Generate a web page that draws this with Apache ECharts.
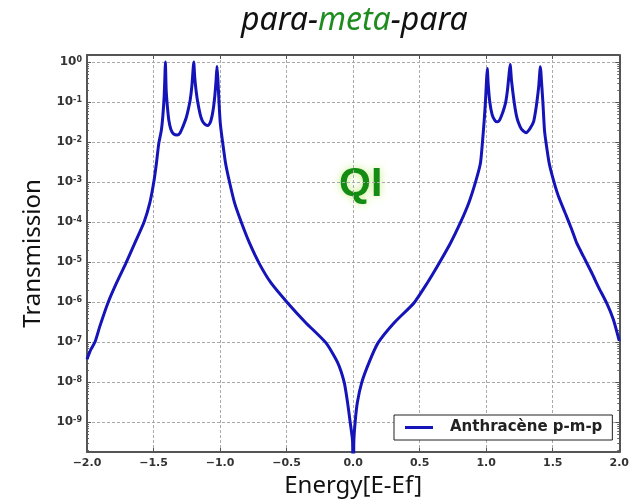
<!DOCTYPE html>
<html>
<head>
<meta charset="utf-8">
<script src="https://cdn.jsdelivr.net/npm/echarts@6/dist/echarts.min.js"></script>
<style>
html,body{margin:0;padding:0;background:#fff;}
#chart{width:632px;height:503px;}
</style>
</head>
<body>
<div id="chart"></div>
<script>
// energies (E-Ef) and transmission
var energy = [
	-2.000, -1.970, -1.940, -1.903, -1.840, -1.778, -1.710, -1.640, -1.571, -1.528,
	-1.498, -1.478, -1.461, -1.441, -1.430, -1.420, -1.414, -1.411, -1.405, -1.395,
	-1.385, -1.370, -1.350, -1.322, -1.300, -1.280, -1.255, -1.240, -1.225, -1.212,
	-1.203, -1.198, -1.190, -1.180, -1.168, -1.150, -1.135, -1.115, -1.093, -1.075,
	-1.060, -1.048, -1.038, -1.030, -1.023, -1.016, -1.008, -1.000, -0.991, -0.979,
	-0.959, -0.929, -0.891, -0.841, -0.779, -0.704, -0.617, -0.492, -0.354, -0.204,
	-0.117, -0.067, -0.042, -0.022, -0.004, 0.000, 0.005, 0.015, 0.032, 0.065,
	0.120, 0.187, 0.307, 0.457, 0.557, 0.644, 0.732, 0.807, 0.869, 0.919,
	0.957, 0.972, 0.985, 0.995, 1.002, 1.008, 1.015, 1.027, 1.045, 1.065,
	1.083, 1.100, 1.120, 1.135, 1.147, 1.160, 1.172, 1.180, 1.190, 1.210,
	1.225, 1.240, 1.265, 1.300, 1.330, 1.356, 1.370, 1.381, 1.395, 1.407,
	1.418, 1.426, 1.438, 1.449, 1.473, 1.506, 1.543, 1.593, 1.643, 1.680,
	1.730, 1.793, 1.843, 1.905, 1.955, 2.000
];
var transmission = [
	3.7e-8, 6.6e-8, 1.0e-7, 2.5e-7, 1.0e-6, 3.0e-6, 9.0e-6, 3.0e-5, 1.0e-4, 3.0e-4,
	1.0e-3, 3.0e-3, 9.0e-3, 0.020, 0.045, 0.14, 0.50, 1.0, 0.20, 0.071,
	0.035, 0.021, 0.016, 0.015, 0.017, 0.024, 0.040, 0.063, 0.11, 0.25,
	0.63, 1.0, 0.40, 0.19, 0.10, 0.050, 0.035, 0.028, 0.026, 0.030,
	0.045, 0.079, 0.16, 0.35, 0.79, 0.35, 0.10, 0.035, 0.018, 9.0e-3,
	3.0e-3, 1.0e-3, 3.0e-4, 1.0e-4, 3.0e-5, 9.0e-6, 3.0e-6, 9.5e-7, 3.0e-7, 9.5e-8,
	3.1e-8, 9.8e-9, 3.1e-9, 9.8e-10, 3.2e-10, 1e-12, 3.0e-10, 9.8e-10, 3.1e-9, 9.8e-9,
	3.1e-8, 9.5e-8, 3.0e-7, 9.5e-7, 3.0e-6, 9.1e-6, 3.0e-5, 9.8e-5, 3.0e-4, 9.8e-4,
	3.0e-3, 0.010, 0.035, 0.11, 0.32, 0.69, 0.28, 0.10, 0.048, 0.035,
	0.032, 0.035, 0.050, 0.071, 0.10, 0.20, 0.50, 0.87, 0.35, 0.10,
	0.050, 0.032, 0.021, 0.017, 0.022, 0.032, 0.056, 0.10, 0.25, 0.76,
	0.25, 0.10, 0.020, 0.010, 3.0e-3, 1.1e-3, 4.4e-4, 1.7e-4, 6.5e-5, 3.0e-5,
	1.4e-5, 5.4e-6, 2.4e-6, 9.5e-7, 3.7e-7, 1.07e-7
];
var seriesName = 'Anthracène p-m-p';
var yTicks = [1e-9, 1e-8, 1e-7, 1e-6, 1e-5, 1e-4, 1e-3, 1e-2, 1e-1, 1];
var yMin = 1.78e-10, yMax = 1.5;

// minor ticks 2..9 of each decade
var yMinor = [];
for(var n=-10;n<=0;n++){
	for(var k=2;k<=9;k++){
		var v = k*Math.pow(10,n);
		if(v>yMin && v<yMax) yMinor.push(v);
	}
}

var frame = {show:true, onZero:false, lineStyle:{color:'#555', width:2}};
var grid = {type:[3,2], color:'#aaa', width:1};

var chart = echarts.init(document.getElementById('chart'));
var option = {
	animation:false,
	backgroundColor:'#fff',
	title:{
		text:'{a|para-}{g|meta}{a|-para}',
		left:236,
		top:0,
		textStyle:{
			rich:{
				a:{fontSize:32, fontStyle:'italic', fontWeight:'normal', fontFamily:'Noto Sans', color:'#111'},
				g:{fontSize:32, fontStyle:'italic', fontWeight:'normal', fontFamily:'Noto Sans', color:'#1e8c1e'}
			}
		}
	},
	grid:{left:87, right:11, top:55, bottom:50},
	legend:{
		data:[seriesName],
		left:394, top:415,
		backgroundColor:'#fff',
		borderColor:'#222', borderWidth:1, borderRadius:0,
		padding:[5,10,5,11],
		icon:'rect', itemWidth:28, itemHeight:3,
		textStyle:{fontSize:15, fontWeight:'bold', fontFamily:'DejaVu Sans', color:'#222', padding:[0,0,0,12]}
	},
	xAxis:[
		{
			type:'value', min:-2, max:2, interval:0.5, position:'bottom',
			name:'Energy[E-Ef]', nameLocation:'middle', nameGap:22,
			nameTextStyle:{fontSize:24, fontFamily:'Noto Sans', color:'#111'},
			axisLine:frame,
			axisTick:{inside:true, length:4, lineStyle:{color:'#555'}},
			axisLabel:{
				margin:6, fontSize:11, fontWeight:'bold', fontFamily:'DejaVu Sans', color:'#333',
				formatter:function(v){ return (v<0?'\u2212':'')+Math.abs(v).toFixed(1); }
			},
			splitLine:{show:true, lineStyle:grid}
		},
		{
			type:'value', min:-2, max:2, interval:0.5, position:'top',
			axisLine:frame,
			axisTick:{inside:true, length:4, lineStyle:{color:'#555'}},
			axisLabel:{show:false},
			splitLine:{show:false}
		}
	],
	yAxis:[
		{
			type:'log', logBase:10, min:yMin, max:yMax, position:'left',
			name:'Transmission', nameLocation:'middle', nameGap:40,
			nameTextStyle:{fontSize:24, fontFamily:'Noto Sans', color:'#111'},
			axisLine:frame,
			axisTick:{inside:true, length:4, customValues:yTicks, lineStyle:{color:'#555'}},
			axisLabel:{
				customValues:yTicks, margin:5,
				formatter:function(v){
					var e = Math.round(Math.log(v)/Math.LN10);
					return '{b|10}{s|'+e+'}';
				},
				rich:{
					b:{fontSize:12, fontWeight:'bold', fontFamily:'DejaVu Sans', color:'#333'},
					s:{fontSize:8, fontWeight:'bold', fontFamily:'DejaVu Sans', color:'#333', verticalAlign:'top'}
				}
			},
			splitLine:{show:true, lineStyle:grid}
		},
		{
			type:'log', logBase:10, min:yMin, max:yMax, position:'right',
			axisLine:frame,
			axisTick:{inside:true, length:4, customValues:yTicks, lineStyle:{color:'#555'}},
			axisLabel:{show:false},
			splitLine:{show:false}
		},
		{
			type:'log', logBase:10, min:yMin, max:yMax, position:'left',
			axisLine:{show:false, onZero:false},
			axisTick:{inside:true, length:2, customValues:yMinor, lineStyle:{color:'#666'}},
			axisLabel:{show:false},
			splitLine:{show:false}
		},
		{
			type:'log', logBase:10, min:yMin, max:yMax, position:'right',
			axisLine:{show:false, onZero:false},
			axisTick:{inside:true, length:2, customValues:yMinor, lineStyle:{color:'#666'}},
			axisLabel:{show:false},
			splitLine:{show:false}
		}
	],
	graphic:[
		{
			type:'text', left:339, top:164,
			style:{
				text:'QI', fontSize:41, fontWeight:'bold', fontFamily:'Liberation Sans',
				fill:'#148c14', textShadowColor:'#c8ee88', textShadowBlur:8
			}
		}
	],
	series:[
		{
			name:seriesName,
			type:'line',
			xAxisIndex:0, yAxisIndex:0,
			showSymbol:false,
			smooth:0.2,
			lineStyle:{color:'#1414b8', width:3},
			itemStyle:{color:'#1414b8'},
			data:energy.map(function(e,i){ return [e, transmission[i]]; })
		}
	]
};
chart.setOption(option);
</script>
</body>
</html>
